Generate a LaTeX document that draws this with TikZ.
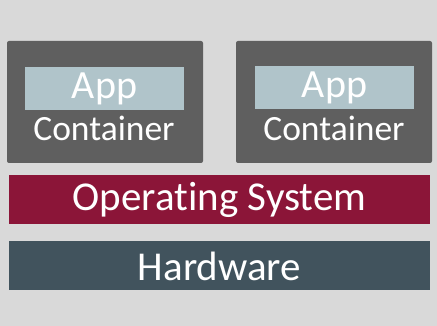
\documentclass[tikz,border=0pt]{standalone}
\usepackage{fontspec}
\setmainfont{Carlito}[Ligatures={NoCommon}]
\usepackage{tikz}
\definecolor{bggray}{HTML}{D9D9D9}
\definecolor{boxgray}{HTML}{5F5F5F}
\definecolor{appblue}{HTML}{B0C4CA}
\definecolor{osred}{HTML}{8B1538}
\definecolor{hwslate}{HTML}{41535D}
\tikzset{
	layer/.style={fill=#1, text=white, minimum width=421pt, minimum height=49pt, inner sep=0pt, font=\fontsize{41}{41}\selectfont},
	cbox/.style={fill=boxgray, rounded corners=2pt, minimum width=196pt, minimum height=122pt, inner sep=0pt},
	appbox/.style={fill=appblue, text=white, minimum width=159pt, minimum height=43pt, inner sep=0pt, font=\fontsize{40}{40}\selectfont},
	ctext/.style={text=white, inner sep=0pt, font=\fontsize{35.5}{35.5}\selectfont}
}

\begin{document}
\begin{tikzpicture}[x=1pt,y=-1pt]
			\fill[bggray] (0,0) rectangle (437,326);
			\useasboundingbox (0,0) rectangle (437,326);
			\node[cbox] (cont1) at (105,102) {};
			\node[cbox] (cont2) at (334,102) {};
			\node[appbox] (app1) at (104.5,88.5) {App};
			\node[appbox] (app2) at (334.5,87.5) {App};
			\node[ctext] (lbl1) at (104,128) {Container};
			\node[ctext] (lbl2) at (334,128) {Container};
			\node[layer=osred] (os) at (219.5,199.5) {Operating System};
			\node[layer=hwslate] (hw) at (219.5,266) {Hardware};
		\end{tikzpicture}
\end{document}
